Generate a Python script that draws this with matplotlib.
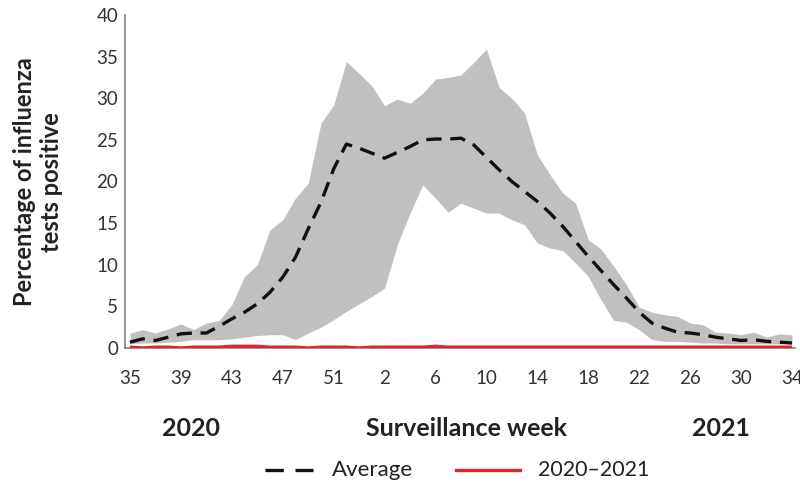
import numpy as np
import matplotlib
matplotlib.use("Agg")
import matplotlib.pyplot as plt
from matplotlib.lines import Line2D

plt.rcParams['font.family'] = ['Lato', 'DejaVu Sans']

# Surveillance weeks: 2020 week 35 through 2021 week 34
weeks = list(range(35, 54)) + list(range(1, 35))

# Historical range of influenza test positivity (%)
upper = [1.8, 2.2, 1.8, 2.3, 2.9, 2.2, 3.0, 3.3, 5.2, 8.6,
         10.0, 14.2, 15.4, 18.0, 19.8, 27.0, 29.2, 34.4, 33.0, 31.5,
         29.1, 29.9, 29.4, 30.6, 32.3, 32.5, 32.8, 34.3, 35.9, 31.3,
         30.0, 28.2, 23.2, 20.8, 18.6, 17.4, 13.0, 11.9, 9.8, 7.6,
         4.9, 4.3, 4.0, 3.8, 3.0, 2.8, 1.9, 1.8, 1.6, 1.9,
         1.3, 1.7, 1.6]
lower = [0.5, 0.6, 0.6, 0.7, 0.8, 1.0, 1.0, 1.0, 1.1, 1.3,
         1.5, 1.6, 1.6, 1.0, 1.8, 2.5, 3.4, 4.4, 5.3, 6.2,
         7.2, 12.4, 16.2, 19.6, 18.0, 16.3, 17.4, 16.8, 16.2, 16.2,
         15.4, 14.8, 12.6, 12.0, 11.7, 10.2, 8.6, 5.8, 3.3, 3.1,
         2.2, 1.0, 0.8, 0.8, 0.7, 0.6, 0.6, 0.5, 0.5, 0.5,
         0.5, 0.5, 0.5]
average = [0.7, 1.1, 0.9, 1.3, 1.7, 1.8, 1.8, 2.6, 3.5, 4.3,
           5.3, 6.7, 8.5, 10.9, 14.3, 17.5, 21.5, 24.5, 24.0, 23.4,
           22.8, 23.5, 24.2, 25.0, 25.1, 25.1, 25.2, 24.4, 22.9, 21.4,
           20.0, 18.8, 17.6, 16.2, 14.6, 12.8, 11.0, 9.3, 7.6, 6.0,
           4.3, 3.0, 2.4, 1.9, 1.8, 1.6, 1.3, 1.1, 0.9, 1.0,
           0.8, 0.7, 0.6]
season_2020_21 = [0.1, 0.0, 0.1, 0.1, 0.0, 0.1, 0.1, 0.1, 0.2, 0.2,
                  0.2, 0.1, 0.1, 0.1, 0.0, 0.1, 0.1, 0.1, 0.0, 0.1,
                  0.1, 0.1, 0.1, 0.1, 0.2, 0.1, 0.1, 0.1, 0.1, 0.1,
                  0.1, 0.1, 0.1, 0.1, 0.1, 0.1, 0.1, 0.1, 0.1, 0.1,
                  0.1, 0.1, 0.1, 0.1, 0.1, 0.1, 0.1, 0.1, 0.1, 0.1,
                  0.1, 0.1, 0.1]

yticks = [0, 5, 10, 15, 20, 25, 30, 35, 40]

x = np.arange(len(weeks))

fig = plt.figure(figsize=(8.0, 4.87), dpi=100)
ax = fig.add_axes([125 / 800, 139 / 487, 670 / 800, 333 / 487])

ax.fill_between(x, lower, upper, color='#c0c0c0', linewidth=0, zorder=1)
ax.plot(x, average, color='#111111', lw=2.4, linestyle=(0, (4.6, 2.6)), zorder=3)
ax.plot(x, season_2020_21, color='#e8202a', lw=2.4, zorder=4, solid_capstyle='butt')

ax.set_xlim(-0.39, 52.24)
ax.set_ylim(0, 40)
ax.set_yticks(yticks)
ax.set_xticks(x[::4])
ax.set_xticklabels([str(w) for w in weeks[::4]])
ax.tick_params(axis='both', length=0, labelsize=13.5, colors='#333333')
ax.tick_params(axis='x', pad=16)
ax.tick_params(axis='y', pad=5)

for side in ('top', 'right'):
    ax.spines[side].set_visible(False)
for side in ('left', 'bottom'):
    ax.spines[side].set_color('#808080')
    ax.spines[side].set_linewidth(1.2)

fig.text(38 / 800, 1 - 182 / 487, 'Percentage of influenza\ntests positive',
         rotation=90, ha='center', va='center', fontsize=17,
         fontweight='bold', color='#222222', linespacing=1.25)

row_y = 1 - 428 / 487
fig.text(191 / 800, row_y, '2020', ha='center', va='center', fontsize=18,
         fontweight='bold', color='#222222')
fig.text(467 / 800, row_y, 'Surveillance week', ha='center', va='center',
         fontsize=18, fontweight='bold', color='#222222')
fig.text(721 / 800, row_y, '2021', ha='center', va='center', fontsize=18,
         fontweight='bold', color='#222222')

# Legend
leg_y = 1 - 470 / 487
fig.add_artist(Line2D([265 / 800, 313 / 800], [leg_y, leg_y], transform=fig.transFigure,
                      color='#111111', lw=2.4, linestyle=(0, (5.5, 3.5))))
fig.text(332 / 800, leg_y, 'Average', ha='left', va='center', fontsize=16,
         color='#222222')
fig.add_artist(Line2D([456 / 800, 520 / 800], [leg_y, leg_y], transform=fig.transFigure,
                      color='#e8202a', lw=2.4))
fig.text(538 / 800, leg_y, '2020\u20132021', ha='left', va='center', fontsize=15.5,
         color='#222222')

fig.savefig('out.png', dpi=100)
